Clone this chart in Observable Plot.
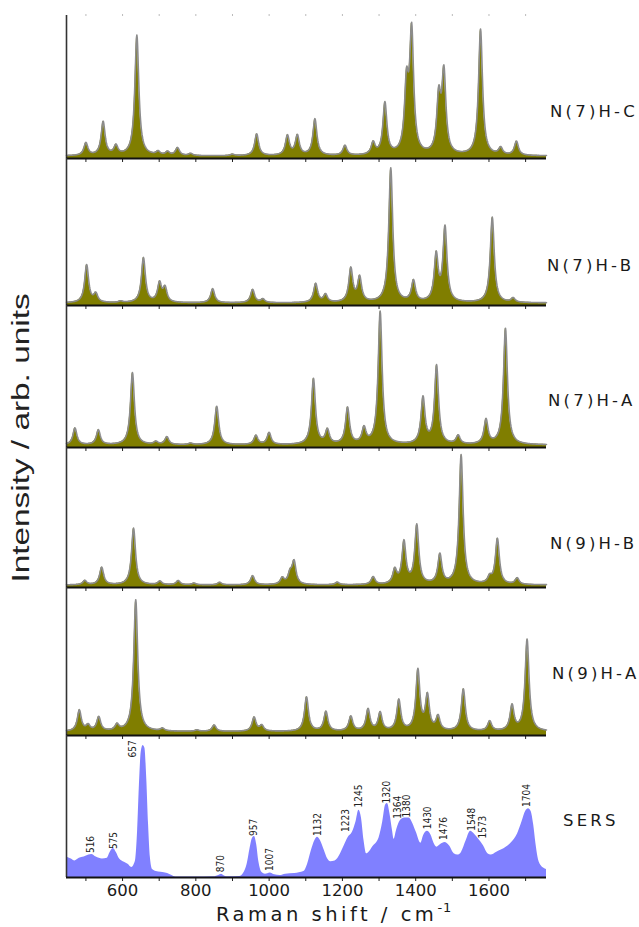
<!DOCTYPE html>
<html><head><meta charset="utf-8">
<script src="https://cdn.jsdelivr.net/npm/d3@7"></script>
<script src="https://cdn.jsdelivr.net/npm/@observablehq/plot@0.6"></script>
<style>
body{margin:0;background:#fff}
#fig{position:relative;width:639px;height:927px;overflow:hidden;background:#fff;font-family:"DejaVu Sans",sans-serif}
.plab{position:absolute;font-size:16.5px;letter-spacing:3.2px;color:#1a1a1a;transform:translateY(-50%);white-space:nowrap;line-height:1.2}
#ytitle{position:absolute;left:21px;top:438px;font-family:"Liberation Sans",Arial,sans-serif;font-size:23px;color:#222;white-space:nowrap;transform:translate(-50%,-50%) rotate(-90deg) scaleX(1.45);line-height:1}
#xtitle{position:absolute;left:216px;top:897px;font-size:19.5px;letter-spacing:3.5px;color:#1a1a1a;white-space:nowrap;line-height:22px}
#xtitle span{font-size:13px;letter-spacing:1px;vertical-align:9px}
</style></head><body>
<div id="fig">
  <div id="ytitle">Intensity / arb. units</div>
  <div id="xtitle">Raman shift / cm<span>-1</span></div>
</div>
<script>
// ---------- data ----------
const xDomain = [447, 1757];
const xTicks = [500, 600, 700, 800, 900, 1000, 1100, 1200, 1300, 1400, 1500, 1600, 1700];
const xTickLabels = ["", "600", "", "800", "", "1000", "", "1200", "", "1400", "", "1600", ""];

const panelNames = ["N(7)H-C", "N(7)H-B", "N(7)H-A", "N(9)H-B", "N(9)H-A", "SERS"];

// calculated spectra: band positions (cm-1) and relative intensities
const n7hcCenters = [500, 547, 582, 639, 697, 723, 750, 786, 900, 966, 1050, 1077, 1125, 1207, 1284, 1316, 1375, 1389, 1463, 1477, 1577, 1632, 1675];
const n7hcHeights = [0.09, 0.24, 0.065, 0.86, 0.025, 0.025, 0.055, 0.015, 0.01, 0.155, 0.14, 0.14, 0.26, 0.07, 0.085, 0.37, 0.47, 0.86, 0.39, 0.57, 0.9, 0.05, 0.1];

const n7hbCenters = [502, 527, 595, 657, 701, 716, 846, 955, 983, 1127, 1154, 1223, 1247, 1332, 1394, 1456, 1480, 1609, 1666];
const n7hbHeights = [0.27, 0.06, 0.01, 0.32, 0.135, 0.1, 0.1, 0.095, 0.025, 0.135, 0.055, 0.24, 0.175, 0.96, 0.15, 0.33, 0.53, 0.61, 0.03];

const n7haCenters = [470, 534, 627, 691, 721, 786, 857, 964, 1000, 1121, 1159, 1214, 1259, 1303, 1420, 1457, 1516, 1592, 1645];
const n7haHeights = [0.12, 0.105, 0.515, 0.02, 0.055, 0.01, 0.275, 0.065, 0.085, 0.47, 0.1, 0.26, 0.11, 0.95, 0.33, 0.56, 0.06, 0.175, 0.83];

const n9hbCenters = [497, 543, 630, 702, 752, 795, 865, 955, 1036, 1057, 1068, 1186, 1284, 1343, 1368, 1403, 1466, 1524, 1602, 1623, 1677];
const n9hbHeights = [0.03, 0.125, 0.405, 0.025, 0.03, 0.012, 0.018, 0.065, 0.045, 0.07, 0.16, 0.018, 0.055, 0.1, 0.3, 0.42, 0.21, 0.925, 0.045, 0.325, 0.045];

const n9haCenters = [482, 506, 535, 585, 636, 709, 803, 850, 959, 980, 1102, 1155, 1223, 1270, 1303, 1354, 1406, 1432, 1461, 1530, 1602, 1663, 1704];
const n9haHeights = [0.15, 0.04, 0.1, 0.043, 0.94, 0.018, 0.01, 0.045, 0.1, 0.04, 0.245, 0.14, 0.105, 0.155, 0.13, 0.22, 0.43, 0.245, 0.1, 0.3, 0.07, 0.18, 0.655];

const calcBaselines = [0.018, 0.018, 0.018, 0.018, 0.028];

// measured SERS spectrum
const sersShift = [447, 460, 470, 482, 495, 508, 516, 528, 545, 558, 566, 575, 583, 592, 605, 615, 625, 632, 636, 641, 646, 651, 656, 661, 666, 671, 676, 682, 692, 705, 723, 735, 745, 795, 850, 862, 870, 878, 888, 920, 930, 940, 948, 955, 960, 966, 972, 980, 990, 1003, 1015, 1030, 1045, 1070, 1095, 1105, 1115, 1125, 1132, 1140, 1150, 1160, 1168, 1180, 1195, 1205, 1215, 1227, 1237, 1245, 1252, 1259, 1266, 1272, 1282, 1300, 1310, 1318, 1323, 1330, 1337, 1341, 1348, 1358, 1370, 1382, 1392, 1402, 1414, 1422, 1432, 1442, 1450, 1458, 1468, 1480, 1492, 1505, 1515, 1525, 1538, 1550, 1560, 1572, 1585, 1597, 1606, 1620, 1635, 1660, 1678, 1690, 1700, 1708, 1715, 1722, 1728, 1734, 1742, 1750, 1757];
const sersIntensity = [0.155, 0.14, 0.125, 0.145, 0.155, 0.17, 0.175, 0.155, 0.14, 0.145, 0.19, 0.22, 0.19, 0.14, 0.115, 0.1, 0.076, 0.1, 0.14, 0.35, 0.7, 0.95, 1.0, 0.98, 0.75, 0.4, 0.15, 0.06, 0.045, 0.04, 0.03, 0.015, 0.004, 0.003, 0.005, 0.015, 0.025, 0.012, 0.005, 0.008, 0.03, 0.1, 0.22, 0.3, 0.31, 0.25, 0.12, 0.04, 0.025, 0.035, 0.02, 0.015, 0.025, 0.03, 0.045, 0.1, 0.2, 0.28, 0.305, 0.28, 0.21, 0.14, 0.12, 0.125, 0.18, 0.24, 0.3, 0.34, 0.42, 0.51, 0.45, 0.28, 0.18, 0.19, 0.23, 0.3, 0.42, 0.55, 0.56, 0.48, 0.35, 0.29, 0.36, 0.43, 0.45, 0.45, 0.41, 0.34, 0.26, 0.32, 0.35, 0.32, 0.26, 0.23, 0.25, 0.265, 0.24, 0.18, 0.17, 0.19, 0.28, 0.35, 0.33, 0.29, 0.24, 0.18, 0.17, 0.19, 0.21, 0.26, 0.33, 0.42, 0.5, 0.52, 0.5, 0.4, 0.26, 0.15, 0.09, 0.07, 0.06];

// SERS band labels
const sersLabels = ["516", "575", "657", "870", "957", "1007", "1132", "1223", "1245", "1320", "1364", "1380", "1430", "1476", "1548", "1573", "1704"];
const sersLabelShift = [514, 575, 627, 868, 957, 1002, 1132, 1209, 1245, 1321, 1350, 1375, 1432, 1477, 1552, 1582, 1704];
const sersLabelLevel = [0.185, 0.215, 0.91, 0.04, 0.315, 0.05, 0.315, 0.345, 0.53, 0.56, 0.445, 0.455, 0.365, 0.285, 0.355, 0.295, 0.535];

// ---------- layout ----------
const panelTop = [15, 158, 305, 447, 587, 735];
const panelAxis = [158, 305, 447, 587, 735, 877];
const pxPerUnit = [140, 140, 140, 140, 140, 132];
const labelLeft = [550, 547, 548, 550, 552, 563];
const labelMid = [112, 266, 401, 544, 674, 821];

const olive = "#807e00";
const outline = "#8c8c8c";
const sersFill = "#8080ff";

const grid = d3.range(xDomain[0], xDomain[1] + 0.01, 1);
function spectrum(centers, heights, base, hw) {
  return grid.map(x => ({
    x,
    y: base + d3.sum(centers, (c, i) => heights[i] / (1 + ((x - c) / hw) ** 2))
  }));
}
const calcSpectra = [
  spectrum(n7hcCenters, n7hcHeights, calcBaselines[0], 6.5),
  spectrum(n7hbCenters, n7hbHeights, calcBaselines[1], 6.5),
  spectrum(n7haCenters, n7haHeights, calcBaselines[2], 6.5),
  spectrum(n9hbCenters, n9hbHeights, calcBaselines[3], 6.5),
  spectrum(n9haCenters, n9haHeights, calcBaselines[4], 6.5)
];
const sersData = sersShift.map((x, i) => ({x, y: sersIntensity[i]}));
const sersLabelData = sersLabels.map((t, i) => ({t, x: sersLabelShift[i], y: sersLabelLevel[i]}));

const fig = document.getElementById("fig");

panelNames.forEach((name, i) => {
  const isSers = i === 5;
  const mt = 4, mb = isSers ? 34 : 8;
  const h = panelAxis[i] - panelTop[i];
  const marks = [];
  if (isSers) {
    marks.push(Plot.areaY(sersData, {x: "x", y: "y", fill: sersFill, curve: "monotone-x"}));
    marks.push(Plot.text(sersLabelData, {
      x: "x", y: "y", text: "t", rotate: -90, textAnchor: "start", lineAnchor: "middle",
      fontFamily: "Liberation Sans Narrow, DejaVu Sans Condensed, sans-serif", fontSize: 10, fill: "#222"
    }));
    marks.push(Plot.axisX({
      ticks: xTicks, tickSize: 4, tickPadding: 3, stroke: "#222", fill: "#1a1a1a", label: null,
      tickFormat: d => xTickLabels[xTicks.indexOf(d)],
      fontSize: 16.5, fontFamily: "DejaVu Sans, sans-serif"
    }));
  } else {
    marks.push(Plot.areaY(calcSpectra[i], {x: "x", y: "y", fill: olive}));
    marks.push(Plot.lineY(calcSpectra[i], {x: "x", y: "y", stroke: outline, strokeWidth: 1.6}));
    marks.push(Plot.axisX({ticks: xTicks, tickSize: 4, stroke: "#222", label: null, tickFormat: () => ""}));
    if (i === 0) {
      marks.push(Plot.axisX({anchor: "top", ticks: xTicks, tickSize: 2, stroke: "#bbb", label: null, tickFormat: () => ""}));
    }
  }
  marks.push(Plot.ruleX([xDomain[0]], {stroke: "#333", strokeWidth: 1.6}));
  marks.push(Plot.ruleY([0], {stroke: "#111", strokeWidth: 2}));

  const svg = Plot.plot({
    width: 639,
    height: h + mt + mb,
    marginTop: mt, marginBottom: mb, marginLeft: 66, marginRight: 93,
    x: {domain: xDomain, label: null},
    y: {domain: [0, h / pxPerUnit[i]], axis: null},
    style: {background: "transparent", overflow: "visible", maxWidth: "none"},
    marks
  });
  svg.style.position = "absolute";
  svg.style.left = "0px";
  svg.style.top = (panelTop[i] - mt) + "px";
  fig.appendChild(svg);

  const lab = document.createElement("div");
  lab.className = "plab";
  lab.textContent = name;
  lab.style.left = labelLeft[i] + "px";
  lab.style.top = labelMid[i] + "px";
  fig.appendChild(lab);
});
</script>
</body></html>
